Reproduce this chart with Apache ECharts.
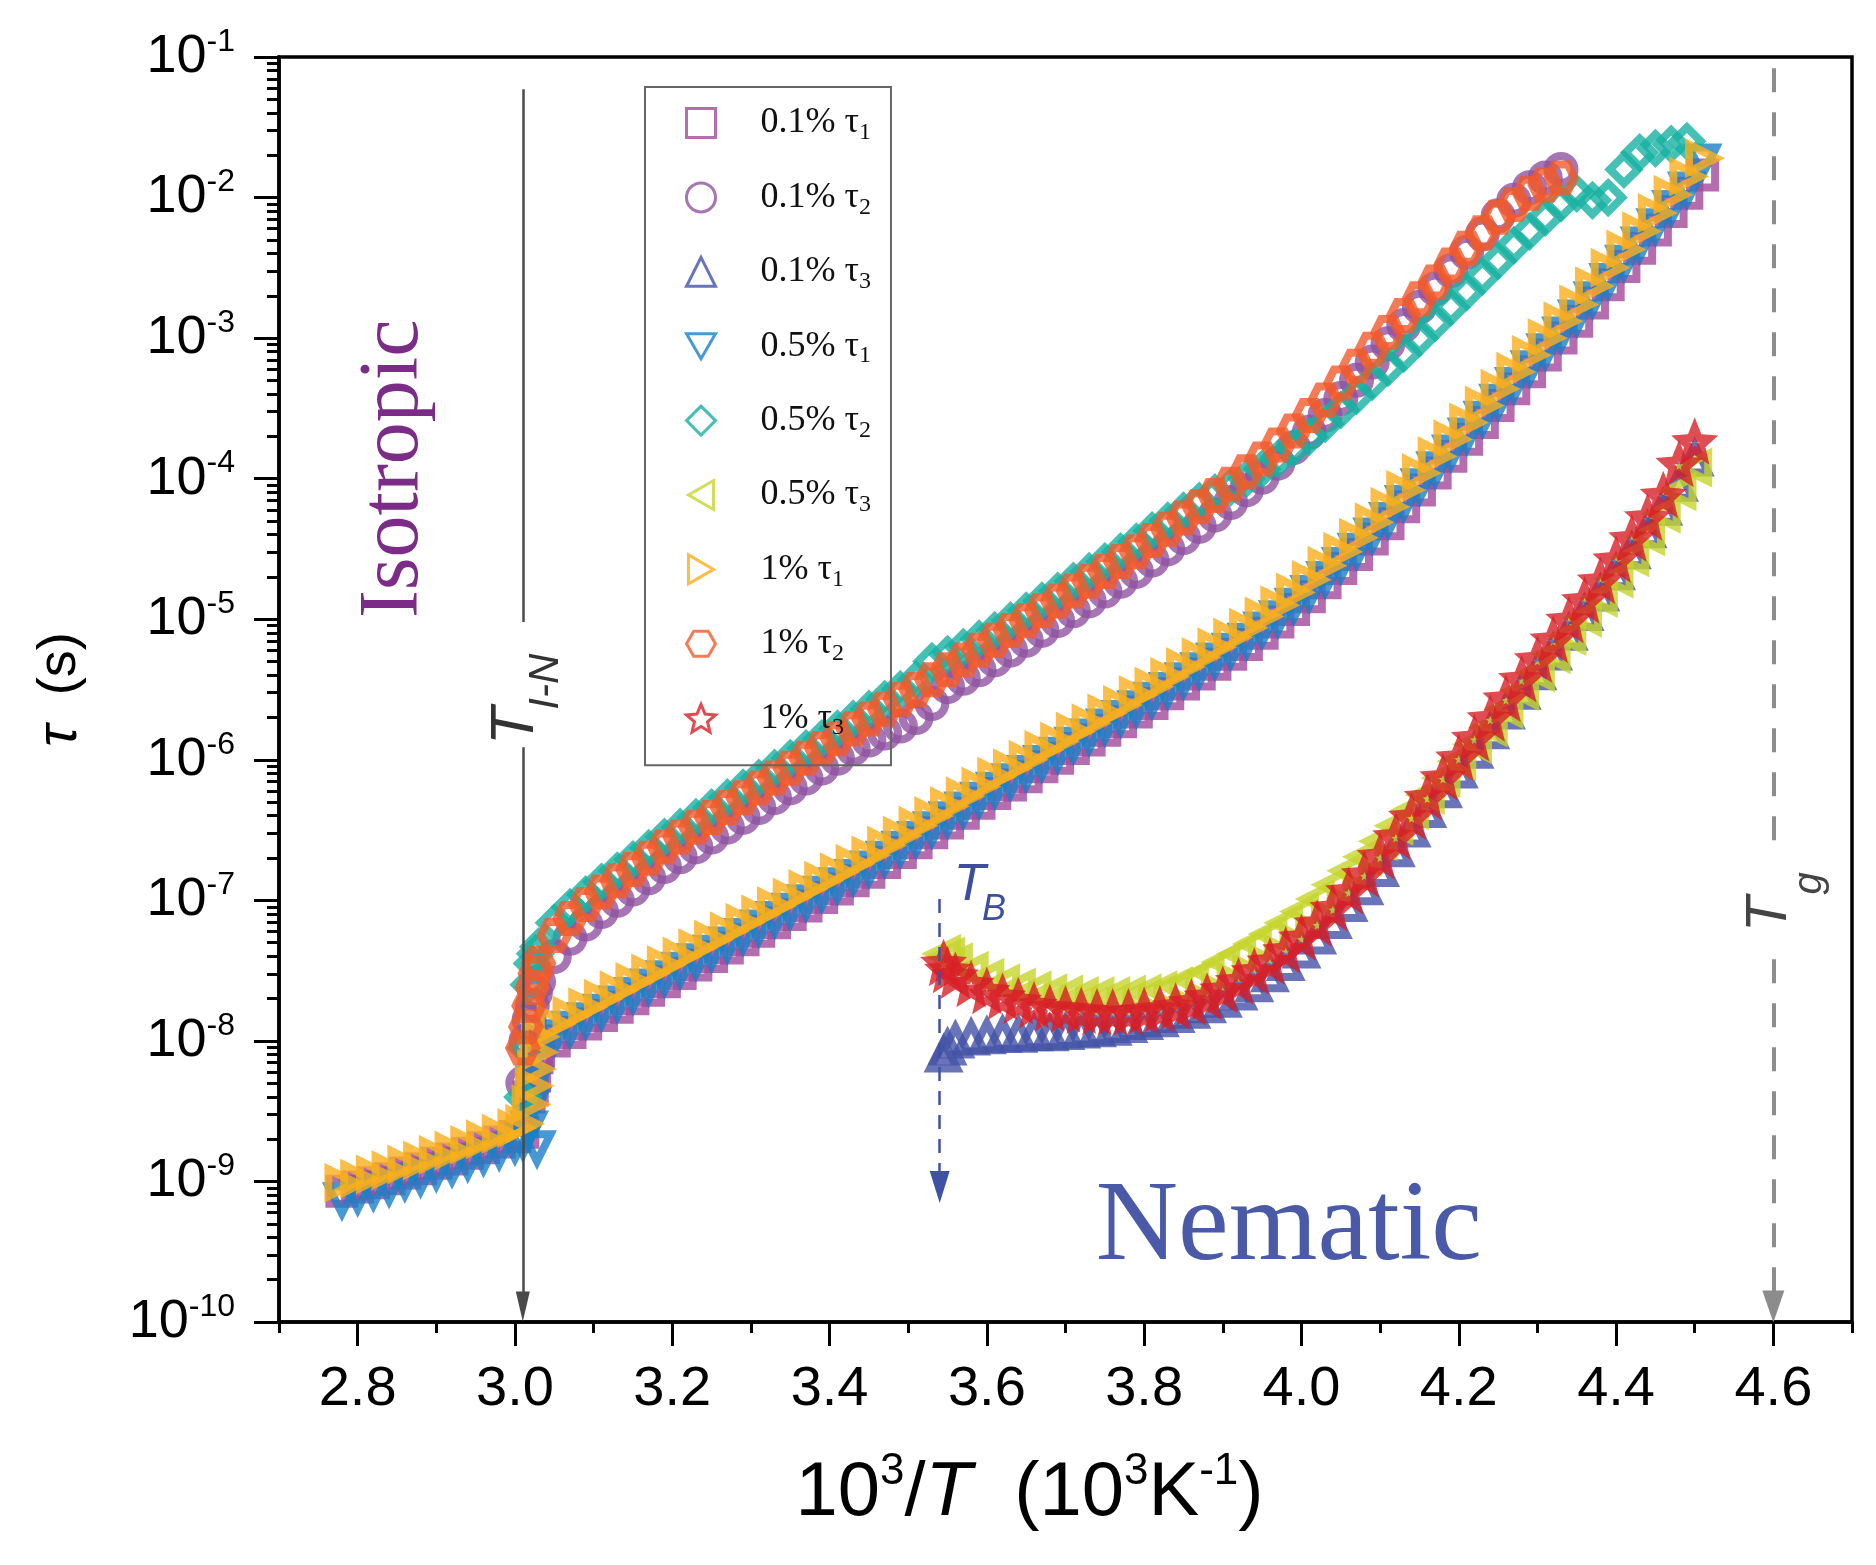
<!DOCTYPE html>
<html>
<head>
<meta charset="utf-8">
<title>tau vs 1000/T</title>
<script src="https://cdn.jsdelivr.net/npm/echarts@6.0.0/dist/echarts.min.js"></script>
<style>
  html, body { margin: 0; padding: 0; background: #fff; }
  #chart { width: 1876px; height: 1565px; }
</style>
</head>
<body>
<div id="chart"></div>
<script>
// x: 10^3/T (10^3 K^-1), y: log10(tau / s)

const xTau1 = [
  2.78, 2.80, 2.82, 2.84, 2.86, 2.88, 2.90, 2.92, 2.94, 2.96, 2.98, 3.00, 3.01,
  3.018, 3.022, 3.025, 3.028,
  3.03, 3.05, 3.07, 3.09, 3.11, 3.13, 3.15, 3.17, 3.19, 3.21,
  3.23, 3.25, 3.27, 3.29, 3.31, 3.33, 3.35, 3.37, 3.39, 3.41,
  3.43, 3.45, 3.47, 3.49, 3.51, 3.53, 3.55, 3.57, 3.59, 3.61,
  3.63, 3.65, 3.67, 3.69, 3.71, 3.73, 3.75, 3.77, 3.79, 3.81,
  3.83, 3.85, 3.87, 3.89, 3.91, 3.93, 3.95, 3.97, 3.99, 4.01,
  4.03, 4.05, 4.07, 4.09, 4.11, 4.13, 4.15, 4.17, 4.19, 4.21,
  4.23, 4.25, 4.27, 4.29, 4.31, 4.33, 4.35, 4.37, 4.39, 4.41,
  4.43, 4.45, 4.47, 4.49, 4.51
];
const xTau2 = [
  3.010, 3.014, 3.018, 3.022, 3.026,
  3.03, 3.05, 3.07, 3.09, 3.11, 3.13, 3.15, 3.17, 3.19, 3.21,
  3.23, 3.25, 3.27, 3.29, 3.31, 3.33, 3.35, 3.37, 3.39, 3.41,
  3.43, 3.45, 3.47, 3.49, 3.51, 3.53, 3.55, 3.57, 3.59, 3.61,
  3.63, 3.65, 3.67, 3.69, 3.71, 3.73, 3.75, 3.77, 3.79, 3.81,
  3.83, 3.85, 3.87, 3.89, 3.91, 3.93, 3.95, 3.97, 3.99, 4.01,
  4.03, 4.05, 4.07, 4.09, 4.11, 4.13, 4.15, 4.17, 4.19, 4.21,
  4.23, 4.25, 4.27, 4.29, 4.31, 4.33
];
const xTau2Tail = [4.35, 4.37, 4.39, 4.41, 4.43, 4.45, 4.47, 4.49];
const xTau3 = [
  3.545, 3.55, 3.56, 3.58, 3.60, 3.62, 3.64, 3.66, 3.68, 3.70,
  3.72, 3.74, 3.76, 3.78, 3.80, 3.82, 3.84, 3.86, 3.88, 3.90,
  3.92, 3.94, 3.96, 3.98, 4.00, 4.02, 4.04, 4.06, 4.08, 4.10,
  4.12, 4.14, 4.16, 4.18, 4.20, 4.22, 4.24, 4.26, 4.28, 4.30,
  4.32, 4.34, 4.36, 4.38, 4.40, 4.42, 4.44, 4.46, 4.48, 4.50
];

// 0.1 %
const lgTau1_c01 = [
  -9.07, -9.04, -9.01, -8.98, -8.94, -8.91, -8.87, -8.84, -8.80, -8.76, -8.72, -8.68, -8.65,
  -8.40, -8.35, -8.25, -8.12,
  -8.09, -8.00, -7.94, -7.88, -7.82, -7.76, -7.70, -7.64, -7.58, -7.52,
  -7.46, -7.40, -7.34, -7.28, -7.22, -7.16, -7.10, -7.04, -6.98, -6.92,
  -6.86, -6.80, -6.73, -6.66, -6.59, -6.52, -6.45, -6.38, -6.31, -6.24,
  -6.18, -6.12, -6.05, -5.99, -5.92, -5.86, -5.79, -5.73, -5.66, -5.60,
  -5.53, -5.46, -5.39, -5.32, -5.25, -5.18, -5.10, -5.02, -4.93, -4.84,
  -4.74, -4.64, -4.54, -4.43, -4.32, -4.20, -4.08, -3.96, -3.84, -3.72,
  -3.60, -3.48, -3.36, -3.24, -3.12, -3.00, -2.88, -2.75, -2.62, -2.49,
  -2.36, -2.23, -2.10, -1.97, -1.84
];
const lgTau2_c01 = [
  -8.30, -8.00, -7.85, -7.75, -7.66,
  -7.58, -7.40, -7.27, -7.17, -7.08, -7.00, -6.92, -6.84, -6.76, -6.69,
  -6.62, -6.55, -6.48, -6.41, -6.34, -6.27, -6.20, -6.13, -6.06, -5.99,
  -5.92, -5.86, -5.81, -5.76, -5.70, -5.60, -5.48, -5.42, -5.36, -5.29,
  -5.22, -5.15, -5.08, -5.01, -4.94, -4.87, -4.80, -4.73, -4.66, -4.58,
  -4.50, -4.42, -4.34, -4.26, -4.17, -4.08, -3.99, -3.89, -3.78, -3.67,
  -3.55, -3.43, -3.30, -3.17, -3.04, -2.91, -2.78, -2.65, -2.52, -2.39,
  -2.26, -2.13, -2.02, -1.93, -1.86, -1.80
];
const lgTau3_c01 = [
  -8.10, -8.05, -8.00, -7.98, -7.97, -7.96, -7.96, -7.95, -7.95, -7.94,
  -7.93, -7.92, -7.91, -7.89, -7.87, -7.85, -7.82, -7.79, -7.75, -7.71,
  -7.66, -7.60, -7.53, -7.45, -7.36, -7.26, -7.15, -7.03, -6.91, -6.78,
  -6.64, -6.50, -6.36, -6.22, -6.08, -5.94, -5.80, -5.66, -5.52, -5.38,
  -5.24, -5.10, -4.96, -4.82, -4.67, -4.52, -4.37, -4.21, -4.04, -3.86
];

// 0.5 %
const lgTau1_c05 = [
  -9.13, -9.10, -9.07, -9.04, -9.00, -8.97, -8.93, -8.90, -8.86, -8.82, -8.78, -8.74, -8.71,
  -8.62, -8.45, -8.30, -8.76,
  -8.06, -7.97, -7.91, -7.85, -7.79, -7.73, -7.67, -7.61, -7.55, -7.49,
  -7.43, -7.37, -7.31, -7.25, -7.19, -7.13, -7.07, -7.01, -6.95, -6.89,
  -6.83, -6.77, -6.70, -6.63, -6.56, -6.49, -6.42, -6.35, -6.28, -6.21,
  -6.15, -6.09, -6.02, -5.96, -5.89, -5.83, -5.76, -5.70, -5.63, -5.57,
  -5.50, -5.43, -5.36, -5.29, -5.22, -5.15, -5.07, -4.99, -4.90, -4.81,
  -4.71, -4.61, -4.51, -4.40, -4.29, -4.17, -4.05, -3.93, -3.81, -3.69,
  -3.57, -3.45, -3.33, -3.21, -3.09, -2.97, -2.85, -2.72, -2.59, -2.46,
  -2.33, -2.20, -2.07, -1.94, -1.74
];
const lgTau2_c05 = [
  -8.40, -8.05, -7.60, -7.45, -7.38,
  -7.33, -7.16, -7.05, -6.96, -6.87, -6.79, -6.71, -6.63, -6.55, -6.48,
  -6.41, -6.34, -6.27, -6.20, -6.13, -6.06, -5.99, -5.92, -5.85, -5.78,
  -5.71, -5.64, -5.57, -5.50, -5.43, -5.30, -5.25, -5.20, -5.14, -5.08,
  -5.01, -4.94, -4.87, -4.80, -4.73, -4.66, -4.59, -4.52, -4.45, -4.37,
  -4.30, -4.23, -4.16, -4.10, -4.06, -4.00, -3.93, -3.86, -3.78, -3.70,
  -3.61, -3.51, -3.41, -3.31, -3.21, -3.11, -3.00, -2.89, -2.78, -2.67,
  -2.56, -2.45, -2.34, -2.24, -2.14, -2.04,
  -1.97, -2.02, -2.00, -1.80, -1.68, -1.65, -1.62, -1.60
];
const lgTau3_c05 = [
  -7.38, -7.40, -7.44, -7.50, -7.55, -7.59, -7.62, -7.64, -7.66, -7.67,
  -7.68, -7.68, -7.68, -7.67, -7.66, -7.64, -7.61, -7.57, -7.51, -7.44,
  -7.38, -7.31, -7.24, -7.16, -7.08, -6.99, -6.89, -6.79, -6.69, -6.58,
  -6.47, -6.36, -6.25, -6.13, -6.01, -5.89, -5.77, -5.64, -5.51, -5.38,
  -5.25, -5.12, -4.99, -4.85, -4.71, -4.56, -4.41, -4.25, -4.09, -3.92
];

// 1 %
const lgTau1_c1 = [
  -9.01, -8.98, -8.95, -8.92, -8.88, -8.85, -8.81, -8.78, -8.74, -8.70, -8.66, -8.62, -8.59,
  -8.45, -8.32, -8.20, -8.08,
  -7.97, -7.88, -7.82, -7.76, -7.70, -7.64, -7.58, -7.52, -7.46, -7.40,
  -7.34, -7.28, -7.22, -7.16, -7.10, -7.04, -6.98, -6.92, -6.86, -6.80,
  -6.74, -6.68, -6.61, -6.54, -6.47, -6.40, -6.33, -6.26, -6.19, -6.12,
  -6.06, -6.00, -5.93, -5.87, -5.80, -5.74, -5.67, -5.61, -5.54, -5.48,
  -5.41, -5.34, -5.27, -5.20, -5.13, -5.06, -4.98, -4.90, -4.81, -4.72,
  -4.62, -4.52, -4.42, -4.31, -4.20, -4.08, -3.96, -3.84, -3.72, -3.60,
  -3.48, -3.36, -3.24, -3.12, -3.00, -2.88, -2.76, -2.63, -2.50, -2.37,
  -2.24, -2.11, -1.98, -1.85, -1.72
];
const lgTau2_c1 = [
  -8.05, -7.90, -7.75, -7.62, -7.52,
  -7.45, -7.25, -7.13, -7.03, -6.94, -6.86, -6.78, -6.70, -6.62, -6.55,
  -6.48, -6.41, -6.34, -6.27, -6.20, -6.13, -6.06, -5.99, -5.92, -5.85,
  -5.78, -5.71, -5.64, -5.57, -5.50, -5.43, -5.36, -5.29, -5.22, -5.15,
  -5.08, -5.01, -4.94, -4.87, -4.80, -4.73, -4.66, -4.59, -4.52, -4.44,
  -4.36, -4.28, -4.20, -4.12, -4.04, -3.95, -3.86, -3.76, -3.66, -3.55,
  -3.44, -3.32, -3.20, -3.08, -2.96, -2.84, -2.72, -2.60, -2.48, -2.36,
  -2.25, -2.14, -2.05, -1.97, -1.91, -1.86
];
const lgTau3_c1 = [
  -7.45, -7.50, -7.54, -7.60, -7.65, -7.69, -7.72, -7.75, -7.77, -7.78,
  -7.79, -7.80, -7.80, -7.80, -7.79, -7.78, -7.76, -7.73, -7.69, -7.64,
  -7.58, -7.51, -7.44, -7.36, -7.27, -7.17, -7.06, -6.94, -6.82, -6.69,
  -6.55, -6.41, -6.27, -6.13, -5.99, -5.85, -5.71, -5.57, -5.43, -5.29,
  -5.15, -5.01, -4.87, -4.73, -4.58, -4.43, -4.28, -4.12, -3.90, -3.74
];

const xMajorTicks = [2.8, 3.0, 3.2, 3.4, 3.6, 3.8, 4.0, 4.2, 4.4, 4.6];
const xMinorTicks = [2.7, 2.9, 3.1, 3.3, 3.5, 3.7, 3.9, 4.1, 4.3, 4.5, 4.7];

// transition temperatures (10^3/T)
const tIN = 3.01;
const tB = 3.54;
const tG = 4.6;

// minor ticks of the log axis at 2..9 within each decade
const yMinorTicks = [];
for (let d = -10; d < -1; d++) {
  for (let k = 2; k <= 9; k++) yMinorTicks.push(d + Math.log10(k));
}

const SANS = '"Liberation Sans", Arial, sans-serif';
const SERIF = '"Liberation Serif", "Times New Roman", serif';

const defs = [
  { name: '0.1% τ1', symbol: 'rect', size: 25, color: '#A3489C', x: xTau1, y: lgTau1_c01 },
  { name: '0.1% τ2', symbol: 'circle', size: 27, color: '#8E52A1', x: xTau2, y: lgTau2_c01 },
  { name: '0.1% τ3', symbol: 'triangle', size: 27, color: '#4452A6', x: xTau3, y: lgTau3_c01 },
  { name: '0.5% τ1', symbol: 'path://M0,0L20,0L10,17.3Z', size: 27, color: '#1A80C6', x: xTau1, y: lgTau1_c05 },
  { name: '0.5% τ2', symbol: 'diamond', size: 28, color: '#16B0A1', x: xTau2.concat(xTau2Tail), y: lgTau2_c05 },
  { name: '0.5% τ3', symbol: 'path://M0,10L17.3,0L17.3,20Z', size: 27, color: '#C4D42A', x: xTau3, y: lgTau3_c05 },
  { name: '1% τ1', symbol: 'path://M0,0L17.3,10L0,20Z', size: 27, color: '#FAAF1B', x: xTau1, y: lgTau1_c1 },
  { name: '1% τ2', symbol: 'path://M5,0L15,0L20,8.66L15,17.32L5,17.32L0,8.66Z', size: 27, color: '#F15A2A', x: xTau2, y: lgTau2_c1 },
  { name: '1% τ3', symbol: 'path://M10,0L12.65,6.36L19.51,6.91L14.28,11.39L15.88,18.09L10,14.5L4.12,18.09L5.72,11.39L0.49,6.91L7.35,6.36Z', size: 28, color: '#D71F27', x: xTau3, y: lgTau3_c1 }
];

// dense measurement bands: thick outlines so overlapping hollow markers read as a band
const series = defs.map(d => ({
  name: d.name,
  type: 'scatter',
  symbol: d.symbol,
  symbolSize: d.size,
  silent: true,
  emphasis: { disabled: true },
  data: d.x.map((x, i) => [x, d.y[i]]),
  itemStyle: { color: 'rgba(0,0,0,0)', borderColor: d.color, borderWidth: 8 }
}));

// guide lines for the phase transitions
series[series.length - 1].markLine = {
  silent: true,
  animation: false,
  symbol: ['none', 'none'],
  label: { show: false },
  emphasis: { disabled: true },
  data: [
    [{ coord: [tIN, -1.23], lineStyle: { color: '#4a4a4a', width: 2.5, type: 'solid' } }, { coord: [tIN, -5.02] }],
    [{ coord: [tIN, -5.91], lineStyle: { color: '#4a4a4a', width: 2.5, type: 'solid' } },
     { coord: [tIN, -9.89], symbol: 'triangle', symbolSize: [14, 30] }],
    [{ coord: [tB, -6.99], lineStyle: { color: '#3F51A3', width: 2.5, type: [14, 10] } },
     { coord: [tB, -9.04], symbol: 'triangle', symbolSize: [20, 32] }],
    [{ coord: [tG, -1.08], lineStyle: { color: '#8c8c8c', width: 4, type: [24, 20] } }, { coord: [tG, -6.65] }],
    [{ coord: [tG, -7.42], lineStyle: { color: '#8c8c8c', width: 4, type: [24, 20] } },
     { coord: [tG, -9.89], symbol: 'triangle', symbolSize: [22, 32] }]
  ]
};

const chart = echarts.init(document.getElementById('chart'));

const option = {
  backgroundColor: '#fff',
  animation: false,
  grid: {
    left: 279, right: 24, top: 57, bottom: 243,
    show: true, borderColor: '#000', borderWidth: 3.5
  },
  legend: {
    data: defs.map(d => d.name),
    orient: 'vertical',
    left: 645, top: 87,
    itemWidth: 29, itemHeight: 29, itemGap: 34.4,
    padding: [18, 20, 25, 40],
    borderColor: '#666', borderWidth: 2,
    selectedMode: false,
    itemStyle: { borderWidth: 3 },
    formatter: name => '{m|' + name.slice(0, -1) + '}{s|' + name.slice(-1) + '}',
    textStyle: {
      fontFamily: SERIF, fontSize: 36, color: '#111',
      rich: {
        m: { fontFamily: SERIF, fontSize: 36, color: '#111', lineHeight: 44, padding: [0, 0, 0, 40] },
        s: { fontFamily: SERIF, fontSize: 24, color: '#111', lineHeight: 24, verticalAlign: 'bottom' }
      }
    }
  },
  xAxis: [{
    type: 'value', min: 2.7, max: 4.7, position: 'bottom',
    splitLine: { show: false },
    axisLine: { onZero: false, lineStyle: { color: '#000', width: 3.5 } },
    axisTick: { customValues: xMajorTicks, length: 24, lineStyle: { color: '#000', width: 3 } },
    axisLabel: {
      customValues: xMajorTicks, margin: 40,
      formatter: v => v.toFixed(1),
      fontFamily: SANS, fontSize: 56, color: '#000'
    },
    name: '{n|10}{p|3}{n|/}{i|T}{n|  (10}{p|3}{n|K}{p|-1}{n|)}',
    nameLocation: 'middle', nameGap: 128,
    nameTextStyle: {
      padding: [0, 72, 0, 0],
      rich: {
        n: { fontFamily: SANS, fontSize: 76, color: '#000', lineHeight: 88 },
        i: { fontFamily: SANS, fontStyle: 'italic', fontSize: 76, color: '#000', lineHeight: 88 },
        p: { fontFamily: SANS, fontSize: 44, color: '#000', lineHeight: 48, verticalAlign: 'top' }
      }
    }
  }, {
    type: 'value', min: 2.7, max: 4.7, position: 'bottom',
    splitLine: { show: false },
    axisLine: { show: false, onZero: false },
    axisTick: { customValues: xMinorTicks, length: 11, lineStyle: { color: '#000', width: 3 } },
    axisLabel: { show: false }
  }],
  yAxis: [{
    type: 'value', min: -10, max: -1, interval: 1, position: 'left',
    splitLine: { show: false },
    axisLine: { onZero: false, lineStyle: { color: '#000', width: 3.5 } },
    axisTick: { length: 25, lineStyle: { color: '#000', width: 3 } },
    axisLabel: {
      margin: 44,
      formatter: v => '{b|10}{s|' + v + '}',
      rich: {
        b: { fontFamily: SANS, fontSize: 54, color: '#000', lineHeight: 62 },
        s: { fontFamily: SANS, fontSize: 32, color: '#000', lineHeight: 34, verticalAlign: 'top' }
      }
    },
    name: '{i|τ}{n|  (s)}',
    nameLocation: 'middle', nameRotate: 90, nameGap: 190,
    nameTextStyle: {
      rich: {
        i: { fontFamily: SANS, fontStyle: 'italic', fontSize: 58, color: '#000' },
        n: { fontFamily: SANS, fontSize: 54, color: '#000' }
      }
    }
  }, {
    type: 'value', min: -10, max: -1, position: 'left',
    splitLine: { show: false },
    axisLine: { show: false, onZero: false },
    axisTick: { customValues: yMinorTicks, length: 12, lineStyle: { color: '#000', width: 3 } },
    axisLabel: { show: false }
  }],
  series: series
};

chart.setOption(option);

// text annotations placed in data coordinates
const px = (x, y) => chart.convertToPixel({ xAxisIndex: 0, yAxisIndex: 0 }, [x, y]);
function label(text, x, y, font, fill, rotation) {
  const p = px(x, y);
  return {
    type: 'text', x: p[0], y: p[1], rotation: rotation || 0, silent: true,
    style: { text: text, font: font, fill: fill, align: 'center', verticalAlign: 'middle' }
  };
}
const up = Math.PI / 2;
chart.setOption({
  graphic: [
    label('Isotropic', 2.847, -3.93, '84px ' + SERIF, '#7B2C87', up),
    label('Nematic', 3.984, -9.34, '114px ' + SERIF, '#4A5AA8', 0),
    label('T', 3.0016, -5.76, 'italic 62px ' + SANS, '#333', up),
    label('I-N', 3.0397, -5.445, 'italic 42px ' + SANS, '#333', up),
    label('T', 3.578, -6.896, 'italic 52px ' + SANS, '#3D4E9E', 0),
    label('B', 3.609, -7.067, 'italic 36px ' + SANS, '#3D4E9E', 0),
    label('T', 4.595, -7.10, 'italic 58px ' + SANS, '#444', up),
    label('g', 4.647, -6.88, 'italic 40px ' + SANS, '#444', up)
  ]
});
</script>
</body>
</html>
